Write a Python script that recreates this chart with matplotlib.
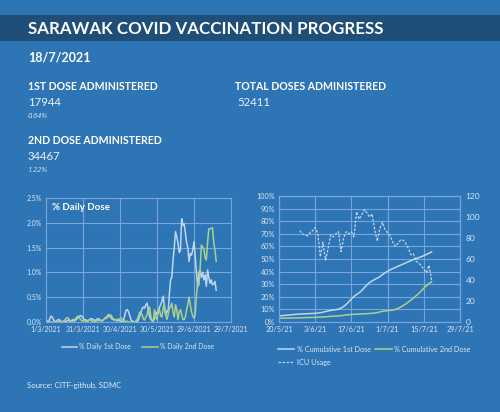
import matplotlib
matplotlib.use("Agg")
import matplotlib.pyplot as plt
from matplotlib.patches import Rectangle
from matplotlib.ticker import FuncFormatter, MultipleLocator
import pandas as pd

plt.rcParams['font.family'] = ['Lato', 'DejaVu Sans']

# ---------------- data ----------------
daily_start = "2021-03-01"
daily_1st = [0.04,0.02,0.00,0.06,0.12,0.10,0.05,0.02,0.00,0.03,
             0.05,0.04,0.02,0.00,0.01,0.03,0.00,0.02,0.04,0.02,
             0.01,0.03,0.05,0.02,0.04,0.06,0.09,0.11,0.13,0.12,
             0.08,0.04,0.05,0.03,0.02,0.04,0.06,0.07,0.05,0.04,
             0.03,0.05,0.07,0.06,0.04,0.02,0.03,0.05,0.08,0.10,
             0.13,0.15,0.12,0.08,0.05,0.06,0.04,0.03,0.02,0.04,
             0.02,0.01,0.00,0.05,0.15,0.24,0.25,0.20,0.12,0.04,
             0.02,0.01,0.00,0.00,0.00,0.05,0.12,0.20,0.27,0.30,
             0.28,0.35,0.38,0.25,0.10,0.05,0.03,0.02,0.06,0.20,
             0.15,0.22,0.30,0.35,0.42,0.52,0.30,0.15,0.22,0.20,
             0.55,0.85,0.90,1.25,1.50,1.82,1.72,1.60,1.40,1.45,
             2.08,1.95,1.98,1.80,1.60,1.50,1.22,1.38,1.35,1.45,
             1.62,1.30,1.00,0.70,1.00,1.05,0.90,1.00,0.85,0.95,
             0.72,1.05,0.90,0.78,0.85,0.75,0.76,0.82,0.64]
daily_2nd = [0.00,0.00,0.00,0.00,0.00,0.00,0.00,0.00,0.00,0.01,
             0.02,0.01,0.00,0.00,0.01,0.03,0.06,0.09,0.08,0.05,
             0.02,0.01,0.02,0.04,0.07,0.10,0.12,0.09,0.05,0.03,
             0.02,0.04,0.02,0.01,0.03,0.05,0.04,0.02,0.01,0.02,
             0.01,0.03,0.02,0.04,0.03,0.02,0.04,0.06,0.08,0.07,
             0.12,0.10,0.14,0.13,0.08,0.04,0.05,0.03,0.06,0.04,
             0.07,0.08,0.04,0.02,0.01,0.02,0.01,0.00,0.00,0.00,
             0.00,0.00,0.00,0.02,0.05,0.12,0.20,0.18,0.14,0.06,
             0.04,0.10,0.15,0.28,0.30,0.12,0.02,0.01,0.25,0.10,
             0.05,0.20,0.25,0.12,0.10,0.30,0.35,0.15,0.05,0.15,
             0.28,0.30,0.38,0.20,0.10,0.35,0.25,0.05,0.20,0.25,
             0.15,0.05,0.05,0.10,0.25,0.35,0.50,0.35,0.20,0.12,
             0.08,0.15,0.55,0.78,0.75,1.10,1.55,1.50,1.48,1.30,
             1.25,1.60,1.88,1.88,1.89,1.90,1.60,1.45,1.22]
daily_ticks = ["2021-03-01", "2021-03-31", "2021-04-30", "2021-05-30", "2021-06-29", "2021-07-29"]

cum_start = "2021-05-20"
cum_1st = [4.8,5.0,5.2,5.4,5.6,5.8,6.0,6.1,6.3,6.4,
           6.5,6.6,6.7,6.8,6.9,7.1,7.4,7.8,8.3,8.8,
           9.2,9.5,9.8,10.2,11.0,12.3,14.0,16.0,18.3,20.3,
           21.8,23.2,25.0,27.2,29.5,31.3,32.6,33.8,34.8,36.0,
           37.6,39.0,40.2,41.4,42.4,43.3,44.2,45.1,46.0,46.9,
           47.8,48.6,49.5,50.3,51.0,51.8,52.7,53.6,54.6,55.6]
cum_2nd = [2.9,3.0,3.0,3.1,3.1,3.2,3.2,3.3,3.3,3.4,
           3.5,3.5,3.6,3.6,3.7,3.8,3.9,4.0,4.1,4.3,
           4.5,4.6,4.7,4.8,5.0,5.3,5.6,5.8,6.0,6.1,
           6.2,6.3,6.4,6.5,6.6,6.8,6.9,7.1,7.5,8.0,
           8.5,8.8,9.0,9.2,9.4,10.0,10.8,11.8,13.0,14.3,
           15.8,17.4,19.0,20.8,22.6,24.6,26.8,28.8,30.5,32.0]
icu_start = "2021-05-28"
icu_usage = [87,84,83,82,85,87,90,84,62,76,
             59,70,83,81,84,86,67,80,86,84,
             86,81,105,98,102,107,104,100,103,88,
             77,89,95,88,85,82,76,72,75,78,
             78,75,70,64,65,58,56,54,50,47,54,40]
cum_ticks = ["2021-05-20", "2021-06-03", "2021-06-17", "2021-07-01", "2021-07-15", "2021-07-29"]

header_title = "SARAWAK COVID VACCINATION PROGRESS"
report_date = "18/7/2021"
dose1_label, dose1_value, dose1_pct = "1ST DOSE ADMINISTERED", "17944", "0.64%"
dose2_label, dose2_value, dose2_pct = "2ND DOSE ADMINISTERED", "34467", "1.22%"
total_label, total_value = "TOTAL DOSES ADMINISTERED", "52411"
source_text = "Source: CITF-github, SDMC"

# ---------------- styling ----------------
BG = "#2E75B6"
BAND = "#1F4E79"
GRID = "#79A6D6"
TICK = "#D9E6F3"
C1 = "#BDD7EE"
C2 = "#A9D18E"
W, H = 500, 412

fig = plt.figure(figsize=(5, 4.12), dpi=100, facecolor=BG)

def fy(y):
    return 1 - y / H

def fx(x):
    return x / W

fig.patches.append(Rectangle((0, fy(40.5)), 1, (40.5 - 15) / H, transform=fig.transFigure,
                             facecolor=BAND, edgecolor="none", zorder=0))

fig.text(fx(28), fy(28.5), header_title, color="white", fontsize=12.2, fontweight="bold", va="center")
fig.text(fx(28), fy(58), report_date, color="white", fontsize=9.0, fontweight="bold", va="center")
fig.text(fx(28), fy(86), dose1_label, color="white", fontsize=7.6, fontweight="bold", va="center")
fig.text(fx(28), fy(102), dose1_value, color="#EEF3F9", fontsize=8.2, va="center")
fig.text(fx(27.5), fy(116), dose1_pct, color="#DCE7F3", fontsize=5.4, style="italic",
         family="Open Sans", va="center")
fig.text(fx(28), fy(141), dose2_label, color="white", fontsize=7.6, fontweight="bold", va="center")
fig.text(fx(28), fy(157), dose2_value, color="#EEF3F9", fontsize=8.2, va="center")
fig.text(fx(27.5), fy(171), dose2_pct, color="#DCE7F3", fontsize=5.4, style="italic",
         family="Open Sans", va="center")
fig.text(fx(235), fy(86), total_label, color="white", fontsize=7.6, fontweight="bold", va="center")
fig.text(fx(237), fy(102), total_value, color="#EEF3F9", fontsize=8.2, va="center")
fig.text(fx(27), fy(385), source_text, color="#E3ECF6", fontsize=5.6, va="center")


def style_axes(ax, size):
    ax.set_facecolor("none")
    for s in ax.spines.values():
        s.set_color(GRID)
        s.set_linewidth(0.8)
    ax.grid(True, color=GRID, linewidth=0.8)
    ax.set_axisbelow(True)
    ax.tick_params(colors=GRID, labelcolor=TICK, labelsize=size, length=0, pad=3)

# ---------------- left chart ----------------
axL = fig.add_axes([fx(46), fy(322), (231 - 46) / W, (322 - 198) / H])
style_axes(axL, 5.0)
dL = pd.date_range(daily_start, periods=len(daily_1st))
l1, = axL.plot(dL, daily_1st, color=C1, lw=1.1, label="% Daily 1st Dose")
l2, = axL.plot(dL, daily_2nd, color=C2, lw=1.1, label="% Daily 2nd Dose")
tL = pd.to_datetime(daily_ticks)
axL.set_xlim(tL[0], tL[-1])
axL.set_xticks(tL)
axL.set_xticklabels([f"{t.day}/{t.month}/{t.year}" for t in tL])
axL.set_ylim(0, 2.5)
axL.yaxis.set_major_locator(MultipleLocator(0.5))
axL.yaxis.set_major_formatter(FuncFormatter(lambda v, p: f"{v:.1f}%"))
fig.text(fx(52), fy(208), "% Daily Dose", color="white", fontsize=7, fontweight="bold", va="center")
fig.legend(handles=[l1, l2], loc="center", bbox_to_anchor=(fx(138), fy(347)), ncol=2,
           frameon=False, fontsize=5.0, labelcolor=TICK, handlelength=2.2, columnspacing=1.6,
           handletextpad=0.3)

# ---------------- right chart ----------------
axR = fig.add_axes([fx(279), fy(322), (460 - 279) / W, (322 - 196) / H])
style_axes(axR, 5.2)
dR = pd.date_range(cum_start, periods=len(cum_1st))
r1, = axR.plot(dR, cum_1st, color=C1, lw=1.1, label="% Cumulative 1st Dose")
r2, = axR.plot(dR, cum_2nd, color=C2, lw=1.1, label="% Cumulative 2nd Dose")
tR = pd.to_datetime(cum_ticks)
axR.set_xlim(tR[0], tR[-1])
axR.set_xticks(tR)
axR.set_xticklabels([f"{t.day}/{t.month}/{str(t.year)[2:]}" for t in tR])
axR.set_ylim(0, 100)
axR.yaxis.set_major_locator(MultipleLocator(10))
axR.yaxis.set_major_formatter(FuncFormatter(lambda v, p: f"{v:.0f}%"))

axR2 = axR.twinx()
axR2.set_facecolor("none")
for s in axR2.spines.values():
    s.set_color(GRID)
    s.set_linewidth(0.8)
axR2.tick_params(colors=GRID, labelcolor=TICK, labelsize=6.0, length=0, pad=4)
dI = pd.date_range(icu_start, periods=len(icu_usage))
r3, = axR2.plot(dI, icu_usage, color=C1, lw=0.9, ls=(0, (2, 1.2)), label="ICU Usage")
axR2.set_ylim(0, 120)
axR2.yaxis.set_major_locator(MultipleLocator(20))
axR.set_xlim(tR[0], tR[-1])

fig.legend(handles=[r1, r3, r2], loc="upper left", bbox_to_anchor=(fx(271), fy(339)), ncol=2,
           frameon=False, fontsize=5.2, labelcolor=TICK, handlelength=2.35, columnspacing=0.5,
           handletextpad=0.35, labelspacing=0.9)

fig.savefig("out.png", dpi=100, facecolor=BG)
